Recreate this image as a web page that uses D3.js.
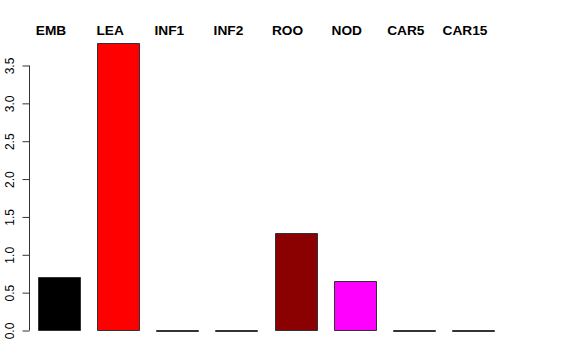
<!DOCTYPE html>
<html>
<head>
<meta charset="utf-8">
<script src="https://cdn.jsdelivr.net/npm/d3@7"></script>
<style>
  body { margin: 0; background: #fff; }
  text { font-family: "Liberation Sans", Arial, sans-serif; }
</style>
</head>
<body>
<div class="rep"></div>
<script>
var categories = ["EMB", "LEA", "INF1", "INF2", "ROO", "NOD", "CAR5", "CAR15"];
var values = [0.705, 3.80, 0, 0, 1.29, 0.655, 0, 0];
var colors = ["black", "red", "white", "white", "#8B0000", "magenta", "white", "white"];
var yTicks = [0, 0.5, 1, 1.5, 2, 2.5, 3, 3.5];

function draw(width, height) {
    var s = d3.select(".rep").append("svg")
        .attr("width", width)
        .attr("height", height);

    var x = d3.scaleBand()
        .domain(categories)
        .range([38, 494])
        .paddingInner(0.29)
        .paddingOuter(0);

    var y = d3.scaleLinear()
        .domain([0, 3.5])
        .range([330.5, 65.5]);

    // bars as paths so that zero bars still show their outline
    s.selectAll("path.bar")
        .data(categories)
        .enter().append("path")
        .attr("class", "bar")
        .attr("d", function(d, i) {
            var x0 = Math.round(x(d)) + 0.5, x1 = x0 + Math.round(x.bandwidth());
            var y0 = y(0), y1 = Math.round(y(values[i])) + 0.5;
            return "M" + x0 + "," + y0 + "H" + x1 + "V" + y1 + "H" + x0 + "Z";
        })
        .style("fill", function(d, i) { return colors[i]; })
        .style("stroke", "#333")
        .style("stroke-width", "1px");

    // labels on top
    s.selectAll("text.lab")
        .data(categories)
        .enter().append("text")
        .attr("class", "lab")
        .attr("x", function(d) { return x(d) + x.bandwidth() / 2 - 8; })
        .attr("y", 35)
        .attr("text-anchor", "middle")
        .style("font-weight", "bold")
        .style("font-size", "13.7px")
        .text(function(d) { return d; });

    // y axis, R style
    var ax = s.append("g")
        .attr("transform", "translate(29.5,0)")
        .call(d3.axisLeft(y)
              .tickValues(yTicks)
              .tickSize(7)
              .tickFormat(d3.format(".1f")));
    ax.select(".domain")
        .attr("d", "M0," + y(0) + "V" + y(3.5))
        .style("stroke", "#333");
    ax.selectAll(".tick line").style("stroke", "#333");
    ax.selectAll(".tick text")
        .attr("x", null)
        .attr("dy", null)
        .attr("transform", "translate(-16,0) rotate(-90)")
        .attr("text-anchor", "middle")
        .style("font-family", "Liberation Sans, Arial, sans-serif")
        .style("font-size", "12px")
        .style("fill", "#000");
}

draw(576, 360);
</script>
</body>
</html>
